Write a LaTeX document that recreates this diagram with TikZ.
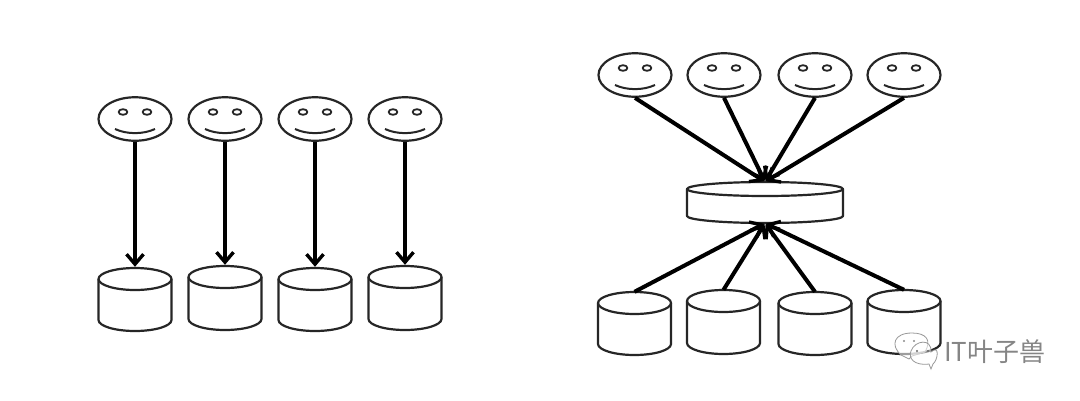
\documentclass[tikz,border=0pt]{standalone}
\usepackage{fontspec}
\usetikzlibrary{arrows.meta,shapes.geometric}
\newfontfamily\cjkwm{Noto Sans CJK SC}
\tikzset{
  x=1pt,y=-1pt,
  outline/.style={draw=black!85,line width=2.2pt,line join=round},
  facebox/.style={ellipse,outline,fill=white,minimum width=73pt,minimum height=43.5pt,inner sep=0pt},
  flow/.style={line width=4pt,black,-{Straight Barb[length=10pt,width=17pt,line width=3.4pt]},shorten >=1pt},
  wmline/.style={draw=black!40,line width=0.8pt,fill=white,fill opacity=0.55},
  wmtext/.style={text=black!48,font=\cjkwm\fontsize{26}{26}\selectfont,inner sep=0pt}
}
\newcommand{\smiley}[3]{% name, x, y
  \node[facebox] (#1) at (#2,#3) {};
  \draw[outline,line width=1.8pt] (#2-12,#3-7) ellipse [x radius=4.4,y radius=2.8];
  \draw[outline,line width=1.8pt] (#2+12,#3-7) ellipse [x radius=4.4,y radius=2.8];
  \draw[outline,line width=2pt] (#2-20,#3+10) .. controls (#2-8,#3+15.5) and (#2+8,#3+15.5) .. (#2+20,#3+10);
}
\newcommand{\drum}[6]{% name, x, top y, bottom y, half width, cap radius
  \node[rectangle,inner sep=0pt,minimum width=2*#5 pt,minimum height=#4pt-#3pt] (#1) at (#2,{(#3+#4)/2}) {};
  \draw[outline,fill=white] (#2-#5,#3+#6)
     .. controls (#2-#5,#3+0.45*#6) and (#2-0.55*#5,#3) .. (#2,#3)
     .. controls (#2+0.55*#5,#3) and (#2+#5,#3+0.45*#6) .. (#2+#5,#3+#6)
     -- (#2+#5,#4-#6)
     .. controls (#2+#5,#4-0.45*#6) and (#2+0.55*#5,#4) .. (#2,#4)
     .. controls (#2-0.55*#5,#4) and (#2-#5,#4-0.45*#6) .. (#2-#5,#4-#6) -- cycle;
  \draw[outline] (#2-#5,#3+#6)
     .. controls (#2-#5,#3+1.55*#6) and (#2-0.55*#5,#3+2*#6) .. (#2,#3+2*#6)
     .. controls (#2+0.55*#5,#3+2*#6) and (#2+#5,#3+1.55*#6) .. (#2+#5,#3+#6);
}
\begin{document}
\begin{tikzpicture}
\useasboundingbox[fill=white] (0,0) rectangle (1080,400);
% left group
\smiley{fa}{135}{119}
\smiley{fb}{225}{119}
\smiley{fc}{315}{119}
\smiley{fd}{405}{119}
\drum{da}{135}{268}{331}{36.5}{11}
\drum{db}{225}{266}{330}{36.5}{11}
\drum{dc}{315}{268}{331}{36.5}{11}
\drum{dd}{405}{266}{330}{36.5}{11}
\draw[flow] (fa.south) -- (da.north);
\draw[flow] (fb.south) -- (db.north);
\draw[flow] (fc.south) -- (dc.north);
\draw[flow] (fd.south) -- (dd.north);
% right group
\smiley{ra}{635}{75}
\smiley{rb}{724}{75}
\smiley{rc}{815}{75}
\smiley{rd}{904}{75}
\drum{ma}{765}{182}{223}{78}{7}
\drum{sa}{634.5}{292}{355}{36.5}{11}
\drum{sb}{723.5}{290}{354}{36.5}{11}
\drum{sc}{815}{292}{355}{36.5}{11}
\drum{sd}{904}{290}{354}{36.5}{11}
\draw[flow] (ra.south) -- (ma.north);
\draw[flow] (rb.south) -- (ma.north);
\draw[flow] (rc.south) -- (ma.north);
\draw[flow] (rd.south) -- (ma.north);
\draw[flow] (sa.north) -- (ma.south);
\draw[flow] (sb.north) -- (ma.south);
\draw[flow] (sc.north) -- (ma.south);
\draw[flow] (sd.north) -- (ma.south);
% watermark
\draw[wmline] (909,359) -- (901,355) .. controls (890,345) and (894,333) .. (912,333)
   .. controls (926,333) and (932,340) .. (925,352) -- (912,356) -- cycle;
\draw[wmline] (931,369) -- (929,364) .. controls (914,366) and (908,358) .. (911,351)
   .. controls (915,340) and (932,338) .. (931,352) .. controls (940,344) and (938,360) .. (933,364) -- cycle;
\fill[black!45] (904,341) circle (1.2) (914,341) circle (1.2);
\fill[black!60] (917,351) circle (1.2) (928,351) circle (1.2);
\node[wmtext,anchor=west] (wm) at (944,352) {IT叶子兽};
\end{tikzpicture}
\end{document}
